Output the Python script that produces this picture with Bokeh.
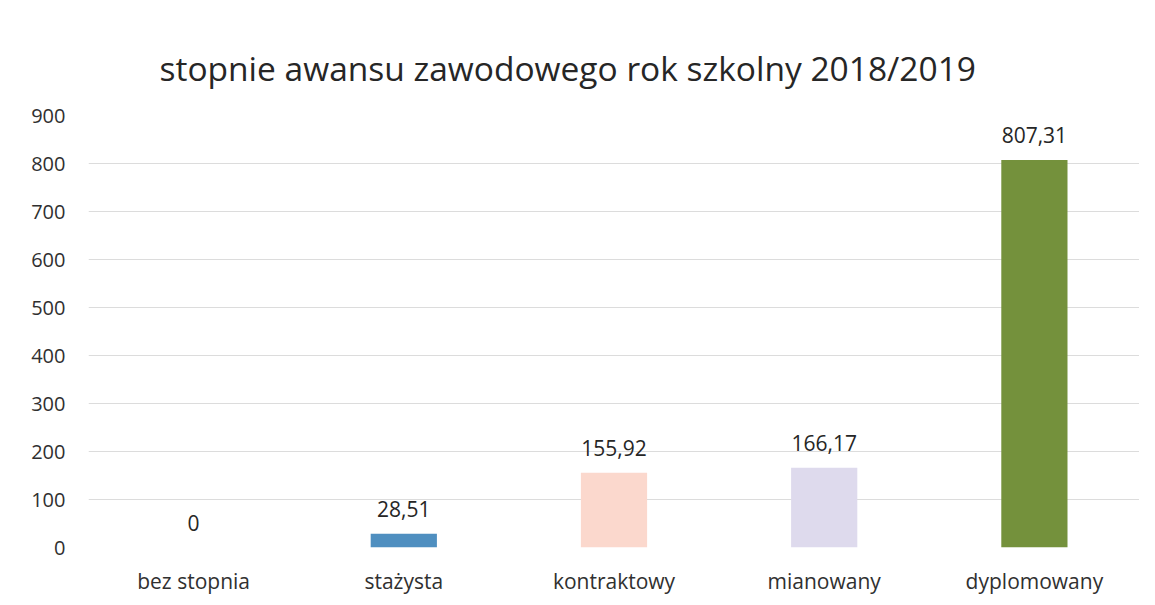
from bokeh.plotting import figure
from bokeh.models import ColumnDataSource, Range1d, FixedTicker, LabelSet
from bokeh.core.properties import value
from bokeh.embed import file_html
from bokeh.resources import INLINE

categories = ["bez stopnia", "stażysta", "kontraktowy", "mianowany", "dyplomowany"]
values = [0, 28.51, 155.92, 166.17, 807.31]
labels = ["0", "28,51", "155,92", "166,17", "807,31"]
colors = ["#4f8fc0", "#4f8fc0", "#fbd8cd", "#dedaed", "#74913c"]
y_ticks = [0, 100, 200, 300, 400, 500, 600, 700, 800, 900]

src = ColumnDataSource(dict(cat=categories, val=values, lab=labels, col=colors))

FONT = "Open Sans"

p = figure(x_range=categories, y_range=Range1d(0, 900), width=1139, height=597,
           output_backend="svg", toolbar_location=None,
           min_border_left=88, min_border_right=0, min_border_top=115, min_border_bottom=50)

p.vbar(x="cat", top="val", width=0.315, fill_color="col", line_color=None, source=src)

lbl = LabelSet(x="cat", y="val", text="lab", source=src, text_align="center",
               text_baseline="bottom", y_offset=17, text_font=value(FONT),
               text_font_size="21px", text_color="#262626")
p.add_layout(lbl)

p.title.text = "stopnie awansu zawodowego rok szkolny  2018/2019"
p.title.text_font = FONT
p.title.text_font_size = "33.5px"
p.title.text_font_style = "normal"
p.title.text_color = "#262626"
p.title.align = "left"
p.title.offset = 71
p.title.standoff = 49

p.yaxis.ticker = FixedTicker(ticks=y_ticks)
for ax in (p.xaxis, p.yaxis):
    ax.axis_line_color = None
    ax.major_tick_line_color = None
    ax.minor_tick_line_color = None
    ax.major_label_text_font = FONT
    ax.major_label_text_color = "#303030"
p.xaxis.major_label_text_font_size = "21px"
p.yaxis.major_label_text_font_size = "20px"
p.yaxis.major_label_standoff = 17
p.xaxis.major_label_standoff = 13

p.xgrid.grid_line_color = None
p.ygrid.grid_line_color = "#dcdcdc"
p.ygrid.grid_line_width = 1
p.outline_line_color = None
p.background_fill_color = "white"
p.border_fill_color = "white"

open("out.html", "w").write(file_html(p, INLINE))
